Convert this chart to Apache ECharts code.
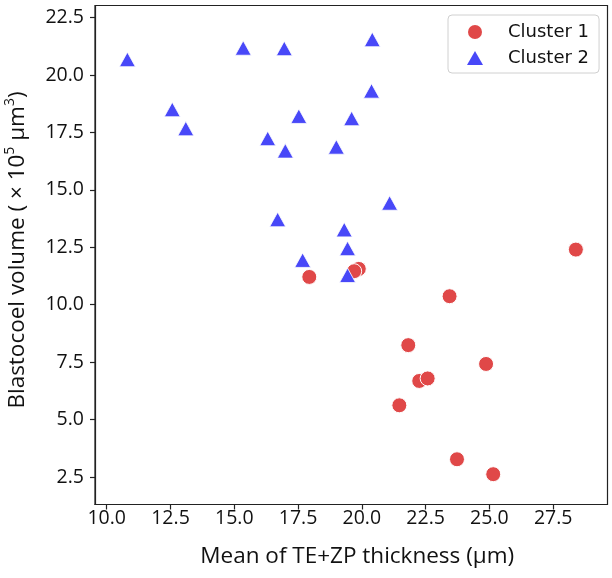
<!DOCTYPE html>
<html>
<head>
<meta charset="utf-8">
<script src="https://cdn.jsdelivr.net/npm/echarts@6/dist/echarts.min.js"></script>
<style>html,body{margin:0;padding:0;background:#fff}#c{width:612px;height:578px}</style>
</head>
<body>
<div id="c"></div>
<script>
var xTicks = [10.0, 12.5, 15.0, 17.5, 20.0, 22.5, 25.0, 27.5];
var yTicks = [2.5, 5.0, 7.5, 10.0, 12.5, 15.0, 17.5, 20.0, 22.5];

var cluster1X = [28.39, 19.88, 19.70, 17.94, 23.44, 21.82, 24.87, 22.25, 22.58, 21.47, 23.73, 25.15];
var cluster1Y = [12.40, 11.56, 11.46, 11.21, 10.37, 8.24, 7.42, 6.68, 6.79, 5.62, 3.27, 2.62];

var cluster2X = [10.81, 12.57, 13.10, 15.35, 16.96, 16.31, 17.00, 17.53, 16.70, 17.68, 20.41, 20.38, 19.60, 19.00, 21.09, 19.31, 19.44, 19.44];
var cluster2Y = [20.68, 18.50, 17.67, 21.18, 21.16, 17.24, 16.70, 18.21, 13.71, 11.94, 21.55, 19.31, 18.11, 16.87, 14.43, 13.27, 12.45, 11.28];

function pairs(xs, ys) { return xs.map(function (x, i) { return [x, ys[i]]; }); }

var chart = echarts.init(document.getElementById('c'), null, {renderer: 'canvas'});
var axisFont = '"Open Sans", "Noto Sans", sans-serif';
chart.setOption({
  animation: false,
  backgroundColor: '#fff',
  grid: {left: 95, right: 4.5, top: 5.5, bottom: 73.5, show: true, borderColor: '#222', borderWidth: 1.2, backgroundColor: 'transparent', containLabel: false, outerBoundsMode: 'none'},
  xAxis: {
    type: 'value', min: 9.54, max: 29.63,
    splitLine: {show: false},
    axisLine: {show: true, onZero: false, lineStyle: {color: '#222', width: 1.2}},
    axisTick: {show: true, length: 5, lineStyle: {color: '#222', width: 1.2}, customValues: xTicks},
    axisLabel: {customValues: xTicks, formatter: function (v) { return v.toFixed(1); }, fontFamily: axisFont, fontSize: 19.5, color: '#111', margin: 4},
    name: 'Mean of TE+ZP thickness (μm)', nameLocation: 'middle', nameGap: 41,
    nameTextStyle: {fontFamily: axisFont, fontSize: 22.5, color: '#111', padding: [0, 0, 0, 12]}
  },
  yAxis: {
    type: 'value', min: 1.3, max: 23.03,
    splitLine: {show: false},
    axisLine: {show: true, onZero: false, lineStyle: {color: '#222', width: 1.2}},
    axisTick: {show: true, length: 5, lineStyle: {color: '#222', width: 1.2}, customValues: yTicks},
    axisLabel: {customValues: yTicks, formatter: function (v) { return v.toFixed(1); }, fontFamily: axisFont, fontSize: 19.5, color: '#111', margin: 11},
    name: '{a|Blastocoel volume ( × 10}{s|5}{a| μm}{s|3}{a|)}', nameLocation: 'middle', nameGap: 66, nameRotate: 90,
    nameTextStyle: {
      fontFamily: axisFont, fontSize: 22.5, color: '#111', padding: [0, 0, 0, 10],
      rich: {
        a: {fontFamily: axisFont, fontSize: 22.5, color: '#111', lineHeight: 26, verticalAlign: 'bottom'},
        s: {fontFamily: axisFont, fontSize: 14, color: '#111', lineHeight: 26, verticalAlign: 'top', padding: [0, 0, 11, 0]}
      }
    }
  },
  legend: {
    left: 448, top: 15,
    orient: 'vertical',
    backgroundColor: '#fff',
    borderColor: '#d0d0d0', borderWidth: 1, borderRadius: 4,
    padding: [7, 10, 5, 19],
    itemWidth: 16, itemHeight: 14, itemGap: 6,
    textStyle: {fontFamily: '"DejaVu Sans", sans-serif', fontSize: 18, color: '#111', lineHeight: 20, padding: [0, 0, 0, 20]},
    data: [
      {name: 'Cluster 1', icon: 'circle', itemStyle: {borderWidth: 0}},
      {name: 'Cluster 2', icon: 'triangle', itemStyle: {borderWidth: 0}}
    ]
  },
  series: [
    {
      name: 'Cluster 1', type: 'scatter', symbol: 'circle', symbolSize: 15,
      itemStyle: {color: '#E04848', borderColor: '#fff', borderWidth: 1, opacity: 1},
      data: pairs(cluster1X, cluster1Y)
    },
    {
      name: 'Cluster 2', type: 'scatter', symbol: 'triangle', symbolSize: [16, 14.5],
      itemStyle: {color: '#4848F8', borderColor: '#fff', borderWidth: 0.8, opacity: 1},
      data: pairs(cluster2X, cluster2Y)
    }
  ]
});
</script>
</body>
</html>
